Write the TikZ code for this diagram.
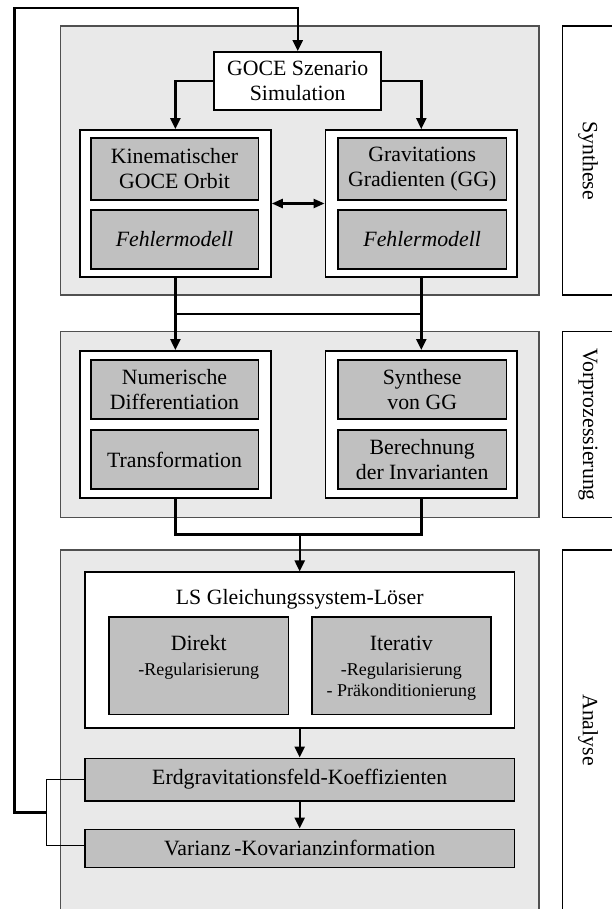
\documentclass[tikz,border=0pt]{standalone}
\usepackage{fontspec}
\setmainfont{Liberation Serif}
\usetikzlibrary{arrows.meta}
\definecolor{panelfill}{HTML}{E9E9E9}
\definecolor{boxfill}{HTML}{C0C0C0}
\definecolor{panelline}{HTML}{505050}
\newcommand\smallf{\fontsize{18}{21}\selectfont}
\begin{document}
\begin{tikzpicture}[x=1pt,y=-1pt,
  every node/.style={font=\fontsize{21.8}{25}\selectfont, inner sep=0pt, align=center},
  panel/.style={draw=panelline, line width=1.3pt, fill=panelfill, minimum width=478.6pt},
  sidebox/.style={draw=black, line width=1.2pt, fill=white, minimum width=100pt},
  sidelabel/.style={rotate=-90},
  cont/.style={draw=black, line width=1.8pt, fill=white},
  gbox/.style={draw=black, line width=1.6pt, fill=boxfill},
  conn/.style={line width=2.4pt, black},
  thinconn/.style={line width=1.2pt, black},
  tip/.style={-{Triangle[length=11pt,width=10pt]}},
  dtip/.style={{Triangle[length=11pt,width=9pt]}-{Triangle[length=11pt,width=9pt]}}
]
\useasboundingbox (0,0) rectangle (611,909);
\fill[white] (0,0) rectangle (611,909);

% panels
\node[panel, minimum height=269pt] (synP) at (299.7,160.5) {};
\node[panel, minimum height=186pt] (vorP) at (299.7,424.7) {};
\node[panel, minimum height=400pt] (anaP) at (299.7,750) {};

% side boxes
\node[sidebox, minimum height=269pt] (sideS) at (612.4,160.5) {};
\node[sidebox, minimum height=186pt] (sideV) at (612.4,424.7) {};
\node[sidebox, minimum height=400pt] (sideA) at (612.4,750) {};
\node[sidelabel] (labS) at (588,160.5) {Synthese};
\node[sidelabel] (labV) at (588,424.7) {Vorprozessierung};
\node[sidelabel] (labA) at (588,730) {Analyse};

% Synthese
\node[cont, minimum width=166.8pt, minimum height=58pt] (goce) at (297.7,81) {GOCE Szenario\\Simulation};
\node[cont, minimum width=191pt, minimum height=147pt] (synL) at (175.4,203.5) {};
\node[cont, minimum width=191.7pt, minimum height=147pt] (synR) at (421.3,203.5) {};
\node[gbox, minimum width=167.6pt, minimum height=62pt] (kin) at (174.5,169) {Kinematischer\\GOCE Orbit};
\node[gbox, minimum width=167.6pt, minimum height=59pt] (fehl1) at (174.5,239.5) {\itshape Fehlermodell};
\node[gbox, minimum width=168.7pt, minimum height=62pt] (grav) at (422.2,169) {Gravitations\\Gradienten (GG)};
\node[gbox, minimum width=168.7pt, minimum height=59pt] (fehl2) at (422.2,239.5) {\itshape Fehlermodell};

% Vorprozessierung
\node[cont, minimum width=191pt, minimum height=146.7pt] (vorL) at (175.4,424.3) {};
\node[cont, minimum width=191.7pt, minimum height=146.7pt] (vorR) at (421.3,424.3) {};
\node[gbox, minimum width=167.6pt, minimum height=59pt] (num) at (174.5,389.5) {Numerische\\Differentiation};
\node[gbox, minimum width=167.6pt, minimum height=59pt] (trans) at (174.5,459.5) {Transformation};
\node[gbox, minimum width=168.7pt, minimum height=59pt] (synGG) at (422.2,389.5) {Synthese\\von GG};
\node[gbox, minimum width=168.7pt, minimum height=59pt] (inv) at (422.2,459.5) {Berechnung\\der Invarianten};

% Analyse
\node[cont, minimum width=429.4pt, minimum height=156pt] (ls) at (299.7,650.3) {};
\node[anchor=base] (lstitle) at (299.7,604) {LS Gleichungssystem-Löser};
\node[gbox, minimum width=179.3pt, minimum height=97.3pt] (direkt) at (198.75,665.65) {};
\node[gbox, minimum width=179.2pt, minimum height=97.3pt] (iter) at (401.4,665.65) {};
\node[anchor=base] (direktT) at (198.75,650) {Direkt};
\node[anchor=base, font=\smallf] (direktR) at (198.75,675) {-Regularisierung};
\node[anchor=base] (iterT) at (401.4,650) {Iterativ};
\node[anchor=base, font=\smallf] (iterR) at (401.4,675) {-Regularisierung};
\node[anchor=base, font=\smallf] (iterP) at (401.4,696) {- Präkonditionierung};
\node[gbox, minimum width=429.4pt, minimum height=42.7pt] (erd) at (299.7,779.65) {Erdgravitationsfeld-Koeffizienten};
\node[gbox, minimum width=429.4pt, minimum height=38pt] (var) at (299.7,848.3) {Varianz\,-Kovarianzinformation};

% connectors
\coordinate (J) at (46.8,812.3);
\coordinate (topL) at (14.4,8.3);
\draw[conn, tip] (J) -| (topL) -| (goce.north);
\draw[thinconn] (erd.west) -| (J);
\draw[thinconn] ([yshift=3pt]var.west) -| (J);

\draw[conn, tip] (goce.west) -| (synL.north);
\draw[conn, tip] (goce.east) -| (synR.north);
\draw[conn, dtip] (synL.east) -- (synR.west);

\draw[conn, tip] (synL.south) -- (vorL.north);
\draw[conn, tip] (synR.south) -- (vorR.north);
\path (synL.south) ++(0,36) coordinate (mL);
\path (synR.south) ++(0,36) coordinate (mR);
\draw[conn] (mL) -- (mR);

\coordinate (bj) at (299.7,534.3);
\draw[conn] (vorL.south) |- (bj) -| (vorR.south);
\draw[conn, tip] (bj) -- (ls.north);
\draw[conn, tip] (ls.south) -- (erd.north);
\draw[conn, tip] (erd.south) -- (var.north);
\end{tikzpicture}
\end{document}
